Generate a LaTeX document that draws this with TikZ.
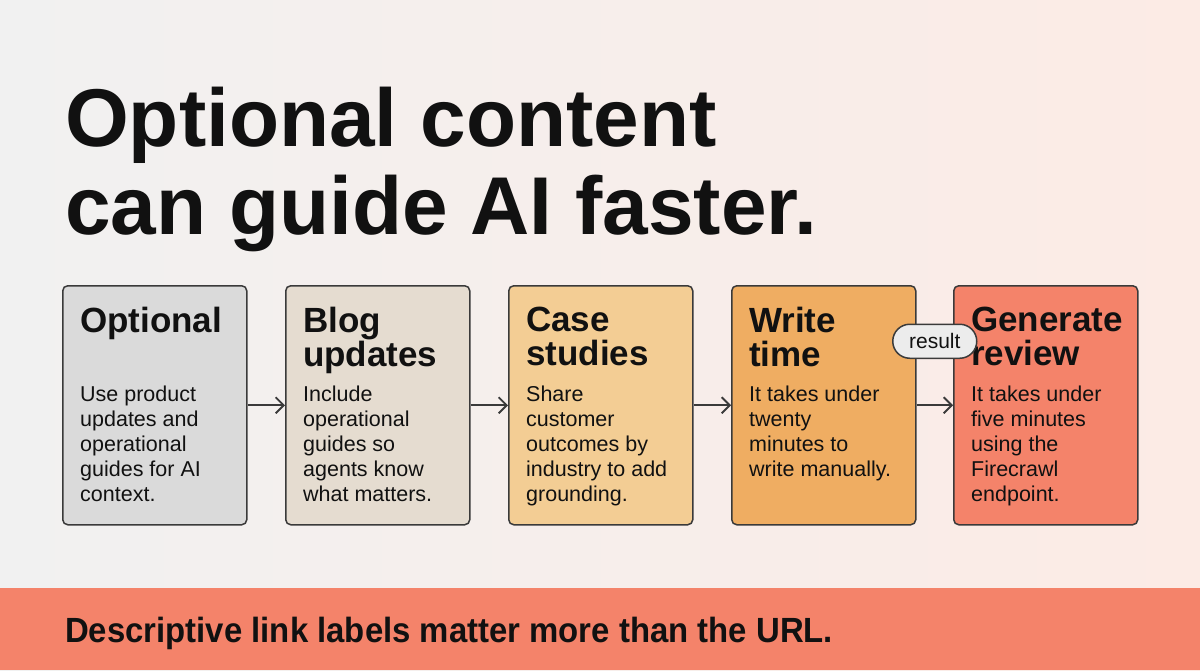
\documentclass[tikz,border=0pt]{standalone}
\usepackage{fontspec}
\setmainfont{Liberation Sans}
\newfontfamily\bannerfont[FakeStretch=0.94]{Liberation Sans}
\usepackage{tikz}
\usetikzlibrary{arrows.meta,positioning,calc}

\definecolor{inkblack}{HTML}{111111}
\definecolor{edgegray}{HTML}{3A3A3A}
\definecolor{bgleft}{HTML}{F1F1F1}
\definecolor{bgright}{HTML}{FCEBE5}
\definecolor{fillgray}{HTML}{DADADA}
\definecolor{fillbeige}{HTML}{E5DCD0}
\definecolor{fillsand}{HTML}{F3CD94}
\definecolor{fillorange}{HTML}{EFAD62}
\definecolor{fillcoral}{HTML}{F4836A}
\definecolor{pillgray}{HTML}{ECECEC}

\tikzset{
    stage/.style={draw=edgegray, line width=1.5pt, rounded corners=5pt, minimum width=184pt, minimum height=239pt, inner sep=0pt, anchor=north west},
    stagetitle/.style={anchor=north west, inner sep=0pt, align=left, text=inkblack, font=\bfseries\fontsize{35}{34}\selectfont},
    stagebody/.style={anchor=north west, inner sep=0pt, align=left, text=inkblack, font=\fontsize{21.5}{25}\selectfont},
    flow/.style={-{Straight Barb[length=8pt,width=16pt]}, line width=1.8pt, draw=edgegray},
    pill/.style={draw=edgegray, line width=1.5pt, fill=pillgray, rounded corners=17pt, minimum width=84pt, minimum height=34pt, inner sep=0pt, text=inkblack, font=\fontsize{21}{21}\selectfont}
}

\begin{document}
\begin{tikzpicture}[x=1pt, y=-1pt]
    % background and banner
    \shade[left color=bgleft, right color=bgright] (0,0) rectangle (1200,670);
    \fill[fillcoral] (0,588) rectangle (1200,670);
    \useasboundingbox (0,0) rectangle (1200,670);

    % headline
    \node[anchor=north west, inner sep=0pt, align=left, text=inkblack, font=\bfseries\fontsize{82}{88}\selectfont] (headline) at (65,87) {Optional content\\can guide AI faster.};

    % stages
    \node[stage, fill=fillgray] (optional) at (62,285) {};
    \node[stage, fill=fillbeige] (blog) at (285,285) {};
    \node[stage, fill=fillsand] (cases) at (508,285) {};
    \node[stage, fill=fillorange] (write) at (731,285) {};
    \node[stage, fill=fillcoral] (generate) at (953,285) {};

    \node[stagetitle] (optionalT) at ([shift={(18,22)}]optional.north west) {Optional};
    \node[stagetitle] (blogT) at ([shift={(18,22)}]blog.north west) {Blog\\updates};
    \node[stagetitle] (casesT) at ([shift={(18,22)}]cases.north west) {Case\\studies};
    \node[stagetitle] (writeT) at ([shift={(18,22)}]write.north west) {Write\\time};
    \node[stagetitle] (generateT) at ([shift={(18,22)}]generate.north west) {Generate\\review};

    \node[stagebody] (optionalB) at ([shift={(18,101)}]optional.north west) {Use product\\updates and\\operational\\guides for AI\\context.};
    \node[stagebody] (blogB) at ([shift={(18,101)}]blog.north west) {Include\\operational\\guides so\\agents know\\what matters.};
    \node[stagebody] (casesB) at ([shift={(18,101)}]cases.north west) {Share\\customer\\outcomes by\\industry to add\\grounding.};
    \node[stagebody] (writeB) at ([shift={(18,101)}]write.north west) {It takes under\\twenty\\minutes to\\write manually.};
    \node[stagebody] (generateB) at ([shift={(18,101)}]generate.north west) {It takes under\\five minutes\\using the\\Firecrawl\\endpoint.};

    % connectors
    \foreach \a/\b in {optional/blog, blog/cases, cases/write}
        \draw[flow] (\a.east) -- (\b.west);
    \draw[flow] (write.east) -- (generate.west) node[pill, midway, yshift=64pt] (resultL) {result};

    % takeaway
    \node[anchor=base west, inner sep=0pt, text=inkblack, font=\bannerfont\bfseries\fontsize{35}{35}\selectfont] (takeaway) at (65,642) {Descriptive link labels matter more than the URL.};
\end{tikzpicture}
\end{document}
